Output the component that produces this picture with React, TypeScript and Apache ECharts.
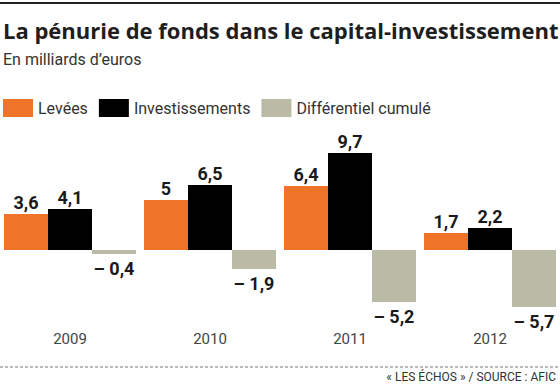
import React, { useEffect, useRef } from "react";
import * as echarts from "echarts";

const years = ["2009", "2010", "2011", "2012"];
const levees = [3.6, 5, 6.4, 1.7];
const investissements = [4.1, 6.5, 9.7, 2.2];
const differentiel = [-0.4, -1.9, -5.2, -5.7];
const seriesNames = ["Levées", "Investissements", "Différentiel cumulé"];
const colors = ["#F07428", "#000000", "#BBBAA7"];

const fmt = (v: number) => {
  const s = Math.abs(v).toString().replace(".", ",");
  return v < 0 ? "\u2013 " + s : s;
};

const FONT = "Roboto, 'Noto Sans', sans-serif";

export default function App() {
  const ref = useRef<HTMLDivElement>(null);
  useEffect(() => {
    if (!ref.current) return;
    const chart = echarts.init(ref.current, null, { renderer: "svg" });
    const label = (pos: string) => ({
      show: true,
      position: pos,
      distance: pos === "top" ? 3 : 5,
      fontSize: 18,
      fontWeight: "bold",
      fontFamily: FONT,
      color: "#1a1a1a",
      formatter: (p: any) => fmt(p.value),
    });
    const data = [levees, investissements, differentiel];
    chart.setOption({
      animation: false,
      backgroundColor: "#ffffff",
      textStyle: { fontFamily: FONT },
      grid: { left: 0, right: 0, top: 130, bottom: 55 },
      legend: {
        left: -2,
        top: 94,
        itemWidth: 30,
        itemHeight: 18,
        itemGap: 11,
        icon: "rect",
        textStyle: { fontSize: 16, color: "#333", fontFamily: FONT },
        data: seriesNames,
      },
      xAxis: {
        type: "category",
        data: years,
        axisLine: { show: false, onZero: false },
        axisTick: { show: false },
        axisLabel: { margin: 1, fontSize: 15, color: "#444", fontFamily: FONT },
      },
      yAxis: {
        type: "value",
        min: -8,
        max: 12,
        show: false,
        splitLine: { show: false },
      },
      series: seriesNames.map((name, i) => ({
        name,
        type: "bar",
        data: data[i],
        barWidth: 44,
        barGap: "0%",
        itemStyle: { color: colors[i] },
        label: label(i === 2 ? "bottom" : "top"),
      })),
      graphic: [
        { type: "line", shape: { x1: 0, y1: 3, x2: 560, y2: 3 }, style: { stroke: "#222", lineWidth: 2 } },
        {
          type: "text",
          left: 3,
          top: 19,
          style: { text: "La pénurie de fonds dans le capital-investissement", fontSize: 22, fontWeight: "bold", fill: "#1e1e1e", fontFamily: "'Open Sans', Roboto, sans-serif" },
        },
        {
          type: "text",
          left: 3,
          top: 51,
          style: { text: "En milliards d\u2019euros", fontSize: 16, fill: "#333", fontFamily: FONT },
        },
        {
          type: "line",
          shape: { x1: 0, y1: 367, x2: 560, y2: 367 },
          style: { stroke: "#777", lineWidth: 1, lineDash: [3, 2] },
        },
        {
          type: "text",
          right: 4,
          top: 371,
          style: { text: "« LES ÉCHOS » / SOURCE : AFIC", fontSize: 12, fill: "#333", fontFamily: FONT },
        },
      ],
    });
    return () => chart.dispose();
  }, []);
  return (
    <div
      ref={ref}
      style={{ position: "fixed", left: 0, top: 0, width: 560, height: 385, background: "#fff" }}
    />
  );
}
